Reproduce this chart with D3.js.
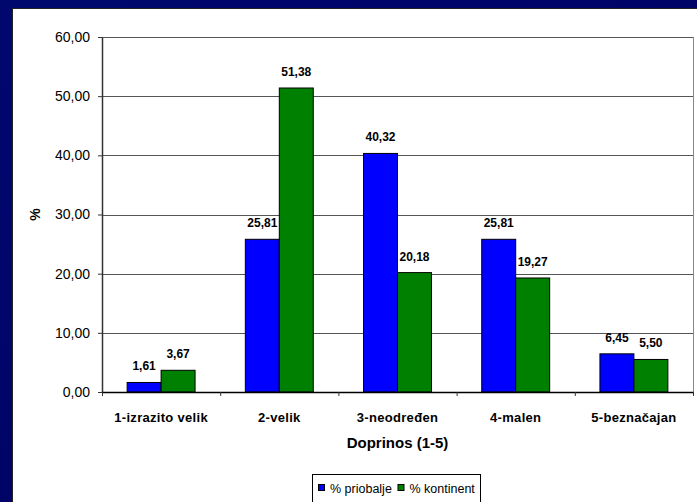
<!DOCTYPE html>
<html><head><meta charset="utf-8">
<script src="https://cdn.jsdelivr.net/npm/d3@7"></script>
<style>
html,body{margin:0;padding:0;background:#000066;}
svg{display:block;}
text{font-family:"Liberation Sans",Arial,sans-serif;fill:#000;}
</style></head>
<body>
<svg id="chart" width="697" height="502"></svg>
<script>
const categories = ["1-izrazito velik","2-velik","3-neodređen","4-malen","5-beznačajan"];
const seriesNames = ["% priobalje","% kontinent"];
const priobalje = [1.61, 25.81, 40.32, 25.81, 6.45];
const kontinent = [3.67, 51.38, 20.18, 19.27, 5.50];
const yTicks = [0,10,20,30,40,50,60];
const colors = ["#0000FF","#008000"];

const svg = d3.select("#chart");
const fmt = v => d3.format(".2f")(v).replace(".", ",");

// background
const bg = svg.append("defs").append("linearGradient").attr("id","bg").attr("x1",0).attr("y1",0).attr("x2",1).attr("y2",1);
bg.append("stop").attr("offset",0).attr("stop-color","#00086e");
bg.append("stop").attr("offset",1).attr("stop-color","#000060");
svg.append("rect").attr("width",697).attr("height",502).attr("fill","url(#bg)");
svg.append("rect").attr("x",12).attr("y",8).attr("width",700).attr("height",510).attr("fill","#222");
svg.append("rect").attr("x",13).attr("y",9).attr("width",700).attr("height",510).attr("fill","#fff");

const L=102, R=693, T=37, B=392;
const x0 = d3.scaleBand().domain(categories).range([L,R]).paddingInner(0).paddingOuter(0);
const x1 = d3.scaleBand().domain(seriesNames).range([0,x0.bandwidth()]).paddingInner(0).paddingOuter(0.74);
const y = d3.scaleLinear().domain([0,60]).range([B,T]);
const xb = d3.scaleLinear().domain([0,categories.length]).range([L,R]);

// gridlines
svg.append("g").selectAll("line").data(yTicks.filter(d=>d>0)).join("line")
  .attr("x1",L).attr("x2",R).attr("y1",d=>Math.round(y(d))+0.5).attr("y2",d=>Math.round(y(d))+0.5)
  .attr("stroke","#555").attr("stroke-width",1);
// right border
svg.append("line").attr("x1",R+0.5).attr("x2",R+0.5).attr("y1",T).attr("y2",B).attr("stroke","#888");

// bars
const data = categories.map((c,i)=>({c, vals:[priobalje[i],kontinent[i]]}));
const groups = svg.append("g").selectAll("g").data(data).join("g")
  .attr("transform",d=>`translate(${x0(d.c)},0)`);
groups.selectAll("rect").data(d=>d.vals.map((v,j)=>({v,s:seriesNames[j],j}))).join("rect")
  .attr("x",d=>x1(d.s)).attr("width",x1.bandwidth())
  .attr("y",d=>y(d.v)).attr("height",d=>B-y(d.v))
  .attr("fill",d=>colors[d.j]).attr("stroke","#000").attr("stroke-width",1);
groups.selectAll("text").data(d=>d.vals.map((v,j)=>({v,s:seriesNames[j],j}))).join("text")
  .attr("x",d=>x1(d.s)+x1.bandwidth()/2).attr("y",d=>y(d.v)-12)
  .attr("text-anchor","middle").attr("font-size","12px").attr("font-weight","bold")
  .text(d=>fmt(d.v));

// y axis
const ya = svg.append("g").attr("transform",`translate(${L},0)`)
  .call(d3.axisLeft(y).tickValues(yTicks).tickFormat(fmt).tickSize(4).tickSizeOuter(0).tickPadding(8));
ya.select(".domain").attr("stroke","#333").attr("stroke-width",1.5);
ya.selectAll(".tick line").attr("stroke","#333");
ya.selectAll("text").attr("font-size","14px").attr("font-family","Liberation Sans, Arial, sans-serif");

// x axis
const xa = svg.append("g").attr("transform",`translate(0,${B})`)
  .call(d3.axisBottom(xb).tickValues(d3.range(0,categories.length+1)).tickFormat("").tickSize(4).tickSizeOuter(0));
xa.select(".domain").attr("stroke","#000").attr("stroke-width",1.5);
xa.selectAll(".tick line").attr("stroke","#333");
const xl = svg.append("g").attr("transform",`translate(0,${B})`)
  .call(d3.axisBottom(x0).tickSize(0).tickPadding(21));
xl.select(".domain").remove();
xl.selectAll("text").attr("font-size","13px").attr("font-weight","bold").attr("letter-spacing","0.3px")
  .attr("font-family","Liberation Sans, Arial, sans-serif");

// axis titles
svg.append("text").attr("x",(L+R)/2).attr("y",448).attr("text-anchor","middle")
  .attr("font-size","15px").attr("font-weight","bold").text("Doprinos (1-5)");
svg.append("text").attr("transform",`translate(40,${(T+B)/2}) rotate(-90)`).attr("text-anchor","middle")
  .attr("font-size","14px").attr("font-weight","bold").text("%");

// legend
const lg = svg.append("g");
lg.append("rect").attr("x",312.5).attr("y",474.5).attr("width",168).attr("height",40).attr("fill","#fff").attr("stroke","#000");
const lx = [318, 397.5];
seriesNames.forEach((s,i)=>{
  lg.append("rect").attr("x",lx[i]+0.5).attr("y",484.5).attr("width",6).attr("height",6).attr("fill",colors[i]).attr("stroke","#000");
  lg.append("text").attr("x",lx[i]+12).attr("y",492.5).attr("font-size","12.5px").text(s);
});
</script>
</body></html>
